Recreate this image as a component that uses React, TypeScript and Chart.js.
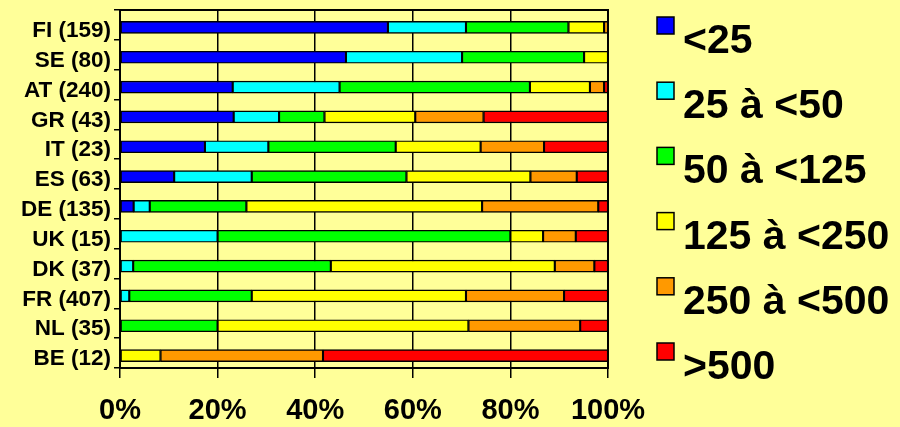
import { useEffect, useRef } from "react";
import { Chart, registerables } from "chart.js";

Chart.register(...registerables);

// ---- data ----
const categories = [
  "FI (159)",
  "SE (80)",
  "AT (240)",
  "GR (43)",
  "IT (23)",
  "ES (63)",
  "DE (135)",
  "UK (15)",
  "DK (37)",
  "FR (407)",
  "NL (35)",
  "BE (12)",
];

const seriesLabels = ["<25", "25 à <50", "50 à <125", "125 à <250", "250 à <500", ">500"];
const seriesColors = ["#0000FF", "#00FFFF", "#00FF00", "#FFFF00", "#FF9900", "#FF0000"];

const below25 = [54.9, 46.3, 23.1, 23.3, 17.4, 11.1, 2.8, 0, 0, 0, 0, 0];
const from25to50 = [16.0, 23.8, 21.9, 9.3, 13.0, 15.9, 3.3, 20.0, 2.7, 1.9, 0, 0];
const from50to125 = [21.0, 25.0, 39.0, 9.3, 26.1, 31.7, 19.8, 60.0, 40.5, 25.1, 20.0, 0];
const from125to250 = [7.3, 4.9, 12.3, 18.6, 17.4, 25.4, 48.3, 6.7, 45.9, 43.9, 51.4, 8.3];
const from250to500 = [0.8, 0, 2.9, 14.0, 13.0, 9.5, 23.8, 6.7, 8.1, 20.1, 22.9, 33.3];
const above500 = [0, 0, 0.8, 25.5, 13.1, 6.4, 2.0, 6.6, 2.8, 9.0, 5.7, 58.4];

const seriesValues = [below25, from25to50, from50to125, from125to250, from250to500, above500];

const xTickValues = [0, 20, 40, 60, 80, 100];

const FONT = '"Liberation Sans", Arial, Helvetica, sans-serif';
const BG = "#FFFF99";

export default function App() {
  const ref = useRef<HTMLCanvasElement>(null);

  useEffect(() => {
    const canvas = ref.current;
    if (!canvas) return;

    const background = {
      id: "bg",
      beforeDraw(chart: any) {
        const ctx = chart.ctx;
        ctx.save();
        ctx.fillStyle = BG;
        ctx.fillRect(0, 0, chart.width, chart.height);
        ctx.restore();
      },
    };

    const barShift = {
      id: "barShift",
      beforeDatasetsDraw(chart: any) {
        chart.ctx.save();
        chart.ctx.translate(0, 2.5);
      },
      afterDatasetsDraw(chart: any) {
        chart.ctx.restore();
      },
    };

    const frame = {
      id: "frame",
      afterDatasetsDraw(chart: any) {
        const { ctx, chartArea } = chart;
        ctx.save();
        ctx.strokeStyle = "#000";
        ctx.lineWidth = 2;
        ctx.strokeRect(chartArea.left, chartArea.top, chartArea.right - chartArea.left, chartArea.bottom - chartArea.top);
        ctx.restore();
      },
    };

    const sideLegend = {
      id: "sideLegend",
      afterDraw(chart: any) {
        const ctx = chart.ctx;
        ctx.save();
        const boxX = 657;
        const top = 17;
        const step = 65.2;
        const box = 17;
        chart.data.datasets.forEach((ds: any, i: number) => {
          const y = top + i * step;
          ctx.fillStyle = ds.backgroundColor;
          ctx.fillRect(boxX, y, box, box);
          ctx.strokeStyle = "#000";
          ctx.lineWidth = 1.5;
          ctx.strokeRect(boxX, y, box, box);
          ctx.fillStyle = "#000";
          ctx.font = `bold 41px ${FONT}`;
          ctx.textAlign = "left";
          ctx.textBaseline = "alphabetic";
          ctx.fillText(ds.label, 683, y + 36);
        });
        ctx.restore();
      },
    };

    const chart = new Chart(canvas, {
      type: "bar",
      data: {
        labels: categories,
        datasets: seriesValues.map((vals, i) => ({
          label: seriesLabels[i],
          data: vals.map((v) => (v === 0 ? null : v)),
          backgroundColor: seriesColors[i],
          borderColor: "#000",
          borderWidth: 1.4,
          borderSkipped: false,
          barThickness: 12,
        })),
      },
      options: {
        indexAxis: "y",
        responsive: false,
        animation: false,
        layout: { padding: { top: 10, right: 292, left: 0, bottom: 0 } },
        plugins: {
          legend: { display: false },
          tooltip: { enabled: false },
        },
        scales: {
          x: {
            type: "linear",
            stacked: true,
            min: 0,
            max: 100,
            afterFit: (s: any) => {
              s.height = 59;
              s.paddingLeft = 0;
              s.paddingRight = 0;
            },
            afterBuildTicks: (s: any) => {
              s.ticks = xTickValues.map((v) => ({ value: v }));
            },
            ticks: {
              callback: (v: any) => `${v}%`,
              color: "#000",
              font: { family: FONT, size: 29, weight: "bold" },
              padding: 16,
              maxRotation: 0,
              autoSkip: false,
            },
            grid: {
              color: "#000",
              lineWidth: 1.5,
              drawTicks: true,
              tickLength: 10,
              tickColor: "#000",
            },
            border: { display: true, color: "#000", width: 2 },
          },
          y: {
            type: "category",
            stacked: true,
            offset: true,
            afterFit: (s: any) => {
              s.width = 120;
              s.paddingTop = 0;
              s.paddingBottom = 0;
            },
            ticks: {
              color: "#000",
              font: { family: FONT, size: 22.5, weight: "bold" },
              padding: 3,
              labelOffset: 6,
              autoSkip: false,
            },
            grid: {
              offset: true,
              drawOnChartArea: false,
              drawTicks: true,
              tickLength: 6,
              color: "#000",
              lineWidth: 1.5,
            },
            border: { display: true, color: "#000", width: 2 },
          },
        },
      },
      plugins: [background, barShift, frame, sideLegend],
    } as any);

    return () => chart.destroy();
  }, []);

  return (
    <div style={{ position: "fixed", left: 0, top: 0, width: 900, height: 427, background: BG }}>
      <canvas ref={ref} width={900} height={427} style={{ display: "block", width: 900, height: 427 }} />
    </div>
  );
}
